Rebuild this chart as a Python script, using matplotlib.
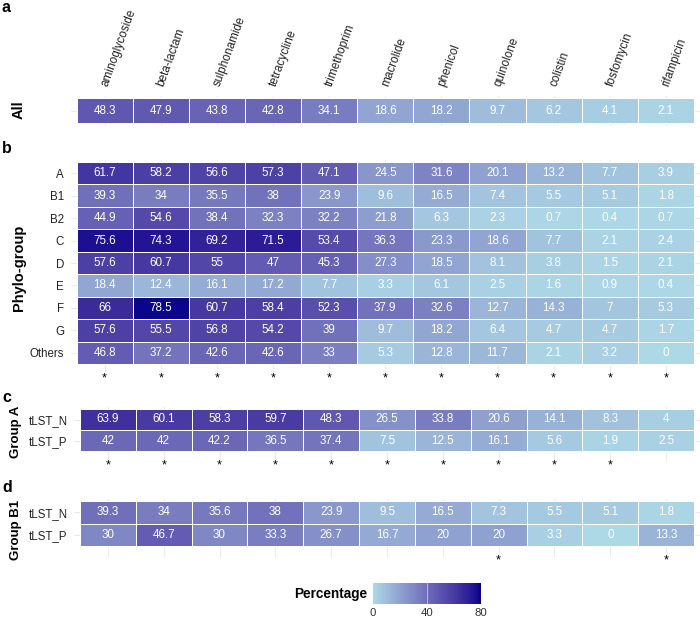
import numpy as np
import matplotlib
matplotlib.use("Agg")
import matplotlib.pyplot as plt
from matplotlib.colors import ListedColormap, Normalize, to_rgb
import matplotlib.cm as cm

plt.rcParams['font.family'] = ['Liberation Sans', 'DejaVu Sans']

antibiotics = ["aminoglycoside", "beta-lactam", "sulphonamide", "tetracycline",
               "trimethoprim", "macrolide", "phenicol", "quinolone", "colistin",
               "fosfomycin", "rifampicin"]

all_vals = [48.3, 47.9, 43.8, 42.8, 34.1, 18.6, 18.2, 9.7, 6.2, 4.1, 2.1]

phylo_groups = ["A", "B1", "B2", "C", "D", "E", "F", "G", "Others"]
phylo_vals = [
    [61.7, 58.2, 56.6, 57.3, 47.1, 24.5, 31.6, 20.1, 13.2, 7.7, 3.9],
    [39.3, 34, 35.5, 38, 23.9, 9.6, 16.5, 7.4, 5.5, 5.1, 1.8],
    [44.9, 54.6, 38.4, 32.3, 32.2, 21.8, 6.3, 2.3, 0.7, 0.4, 0.7],
    [75.6, 74.3, 69.2, 71.5, 53.4, 36.3, 23.3, 18.6, 7.7, 2.1, 2.4],
    [57.6, 60.7, 55, 47, 45.3, 27.3, 18.5, 8.1, 3.8, 1.5, 2.1],
    [18.4, 12.4, 16.1, 17.2, 7.7, 3.3, 6.1, 2.5, 1.6, 0.9, 0.4],
    [66, 78.5, 60.7, 58.4, 52.3, 37.9, 32.6, 12.7, 14.3, 7, 5.3],
    [57.6, 55.5, 56.8, 54.2, 39, 9.7, 18.2, 6.4, 4.7, 4.7, 1.7],
    [46.8, 37.2, 42.6, 42.6, 33, 5.3, 12.8, 11.7, 2.1, 3.2, 0],
]
phylo_sig = [1, 1, 1, 1, 1, 1, 1, 1, 1, 1, 1]

lst_groups = ["tLST_N", "tLST_P"]
groupA_vals = [
    [63.9, 60.1, 58.3, 59.7, 48.3, 26.5, 33.8, 20.6, 14.1, 8.3, 4],
    [42, 42, 42.2, 36.5, 37.4, 7.5, 12.5, 16.1, 5.6, 1.9, 2.5],
]
groupA_sig = [1, 1, 1, 1, 1, 1, 1, 1, 1, 1, 0]

groupB1_vals = [
    [39.3, 34, 35.6, 38, 23.9, 9.5, 16.5, 7.3, 5.5, 5.1, 1.8],
    [30, 46.7, 30, 33.3, 26.7, 16.7, 20, 20, 3.3, 0, 13.3],
]
groupB1_sig = [0, 0, 0, 0, 0, 0, 0, 1, 0, 0, 1]

cbar_ticks = [0, 40, 80]

# ---- colour map: lightblue -> darkblue interpolated in CIE Lab ----
def srgb_to_lab(c):
    c = np.asarray(c, float)
    lin = np.where(c <= 0.04045, c / 12.92, ((c + 0.055) / 1.055) ** 2.4)
    M = np.array([[0.4124, 0.3576, 0.1805], [0.2126, 0.7152, 0.0722], [0.0193, 0.1192, 0.9505]])
    xyz = M @ lin
    wp = np.array([0.95047, 1.0, 1.08883])
    t = xyz / wp
    f = np.where(t > (6 / 29) ** 3, np.cbrt(t), t / (3 * (6 / 29) ** 2) + 4 / 29)
    return np.array([116 * f[1] - 16, 500 * (f[0] - f[1]), 200 * (f[1] - f[2])])

def lab_to_srgb(lab):
    L, a, b = lab
    fy = (L + 16) / 116
    fx = fy + a / 500
    fz = fy - b / 200
    def finv(f):
        return np.where(f > 6 / 29, f ** 3, 3 * (6 / 29) ** 2 * (f - 4 / 29))
    wp = np.array([0.95047, 1.0, 1.08883])
    xyz = np.array([finv(fx), finv(fy), finv(fz)]) * wp
    Minv = np.array([[3.2406, -1.5372, -0.4986], [-0.9689, 1.8758, 0.0415], [0.0557, -0.2040, 1.0570]])
    lin = Minv @ xyz
    lin = np.clip(lin, 0, 1)
    s = np.where(lin <= 0.0031308, 12.92 * lin, 1.055 * lin ** (1 / 2.4) - 0.055)
    return np.clip(s, 0, 1)

lab_lo = srgb_to_lab(to_rgb("#ADD8E6"))
lab_hi = srgb_to_lab(to_rgb("#00008B"))
cols = [lab_to_srgb(lab_lo + (lab_hi - lab_lo) * t) for t in np.linspace(0, 1, 256)]
cmap = ListedColormap(cols)
norm = Normalize(vmin=0, vmax=80)

W, H = 700, 620
fig = plt.figure(figsize=(W / 100, H / 100), dpi=100)

TXT = '#222222'
GRID = '#EBEBEB'

def make_panel(vals, rows, sig, tx0, tx1, ty0, ty1, top_labels=False):
    nrow = len(rows)
    ncol = len(antibiotics)
    cw = (tx1 - tx0) / ncol
    rh = (ty1 - ty0) / nrow
    ylo = -0.97 if sig is not None else -0.6
    x0 = tx0 - 0.1 * cw
    x1 = tx1 + 0.1 * cw
    y0 = ty0 - 0.1 * rh
    y1 = ty1 + (-0.5 - ylo) * rh
    ax = fig.add_axes([x0 / W, 1 - y1 / H, (x1 - x0) / W, (y1 - y0) / H])
    data = np.array(vals, float)[::-1]
    ax.set_xticks(range(ncol))
    ax.set_yticks(range(nrow))
    ax.grid(True, color=GRID, lw=0.8)
    ax.set_axisbelow(True)
    ax.pcolormesh(np.arange(ncol + 1) - 0.5, np.arange(nrow + 1) - 0.5, data,
                  cmap=cmap, norm=norm, edgecolors='white', linewidth=0.5, zorder=2)
    for i in range(nrow):
        for j in range(ncol):
            ax.text(j, i, f"{data[i, j]:g}", color='white', ha='center', va='center',
                    fontsize=8.4, zorder=3)
    if sig is not None:
        for j, s in enumerate(sig):
            if s:
                ax.annotate('*', (j, -0.5), xytext=(0, -12.5), textcoords='offset points',
                            ha='center', va='baseline', fontsize=9, color='black', zorder=3)
    ax.set_xlim(-0.6, ncol - 0.4)
    ax.set_ylim(ylo, nrow - 0.4)
    for sp in ax.spines.values():
        sp.set_visible(False)
    ax.tick_params(length=0)
    ax.set_yticklabels(rows[::-1], fontsize=8.3, color=TXT)
    ax.tick_params(axis='y', pad=5)
    if top_labels:
        ax.xaxis.tick_top()
        ax.set_xticklabels(antibiotics, rotation=70, ha='left', va='center',
                           rotation_mode='anchor', fontsize=8.5, color=TXT)
        ax.tick_params(axis='x', pad=7)
    else:
        ax.set_xticklabels([])
    return ax

make_panel([all_vals], ["All"], None, 76.5, 694, 98, 123, top_labels=True)
axa = fig.axes[0]
axa.set_yticklabels([])
make_panel(phylo_vals, phylo_groups, phylo_sig, 76.5, 694, 162, 364)
make_panel(groupA_vals, lst_groups, groupA_sig, 80, 694, 409, 451)
make_panel(groupB1_vals, lst_groups, groupB1_sig, 80, 694, 501, 546)

# axis titles
fig.text(19 / W, 1 - 110 / H, "All", rotation=90, ha='center', va='center',
         fontsize=10.5, fontweight='bold', color='black')
fig.text(19 / W, 1 - 268 / H, "Phylo-group", rotation=90, ha='center', va='center',
         fontsize=10.5, fontweight='bold', color='black')
fig.text(16 / W, 1 - 432 / H, "Group A", rotation=90, ha='center', va='center',
         fontsize=9.5, fontweight='bold', color='black')
fig.text(16 / W, 1 - 530 / H, "Group B1", rotation=90, ha='center', va='center',
         fontsize=9.5, fontweight='bold', color='black')

# panel letters
for letter, yy in [("a", 8), ("b", 148), ("c", 397), ("d", 488)]:
    fig.text(2 / W, 1 - yy / H, letter, ha='left', va='center', fontsize=11.5,
             fontweight='bold', color='black')

# colour bar
cax = fig.add_axes([373 / W, 1 - 604 / H, 108 / W, 21 / H])
sm = cm.ScalarMappable(norm=norm, cmap=cmap)
cb = fig.colorbar(sm, cax=cax, orientation='horizontal')
cb.outline.set_visible(False)
cb.set_ticks(cbar_ticks)
cax.tick_params(length=0, labelsize=8.2, labelcolor='#333333', pad=3)
cax.axvline(40, color='white', lw=0.6, alpha=0.6)
fig.text(367 / W, 1 - 594 / H, "Percentage", ha='right', va='center',
         fontsize=9.8, fontweight='bold', color='black')

fig.savefig("out.png", dpi=100)
